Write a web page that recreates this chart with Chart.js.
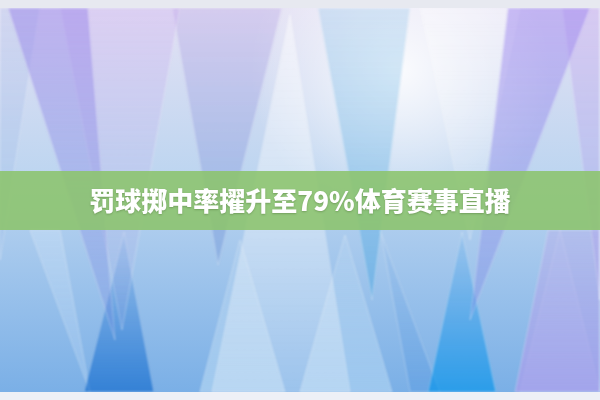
<!DOCTYPE html>
<html><head><meta charset="utf-8">
<script src="https://cdn.jsdelivr.net/npm/chart.js@4"></script>
<style>html,body{margin:0;padding:0;background:#fff}#wrap{width:600px;height:400px}</style>
</head><body><div id="wrap"><canvas id="c" width="600" height="400"></canvas></div>
<script>
// Banner title text
const titleText = "罚球掷中率擢升至79%体育赛事直播";
// Decorative polygons (image coordinates, x 0-600, y 0-400 downward)
const shapeNames = ["purpleL","purpleL2","blueL","whiteC","blueC","purpleR","purpleR2","lavBR","darkBL","brightBR","lightB1","lightB2","lightB3","whiteL","whiteR","blueL2","blueR2"];
const shapeXs = [
  [8,88,115],
  [60,180,122],
  [172,282,218],
  [290,212,350],
  [318,410,372],
  [508,590,470],
  [562,600,600],
  [548,600,600,515],
  [124,84,154],
  [462,428,496],
  [345,300,392],
  [240,200,285],
  [560,520,600],
  [30,60,90],
  [420,520,470],
  [0,40,0],
  [380,440,410]
];
const shapeYs = [
  [8,8,340],
  [8,8,330],
  [8,8,265],
  [14,392,392],
  [8,8,300],
  [8,8,320],
  [8,8,300],
  [230,230,392,392],
  [232,392,392],
  [232,392,392],
  [235,392,392],
  [240,392,392],
  [230,392,392],
  [230,230,392],
  [8,8,240],
  [8,8,260],
  [230,392,392]
];
const shapeTop = [
  "rgba(160,140,235,0.55)","rgba(205,175,240,0.35)","rgba(185,165,230,0.35)",
  "rgba(255,255,255,0.45)","rgba(120,185,230,0.25)","rgba(160,135,240,0.50)",
  "rgba(200,175,240,0.45)","rgba(185,175,235,0.45)","rgba(40,120,215,0.05)",
  "rgba(40,150,235,0.10)","rgba(215,235,250,0.15)","rgba(215,235,250,0.15)",
  "rgba(200,220,250,0.15)","rgba(210,230,250,0.35)","rgba(255,255,255,0.35)",
  "rgba(170,190,235,0.30)","rgba(120,170,230,0.10)"
];
const shapeBot = [
  "rgba(120,140,225,0.25)","rgba(180,180,235,0.15)","rgba(110,150,215,0.45)",
  "rgba(255,255,255,0.25)","rgba(70,165,225,0.45)","rgba(130,140,230,0.35)",
  "rgba(170,160,235,0.35)","rgba(165,160,235,0.85)","rgba(15,105,205,0.65)",
  "rgba(10,150,235,0.70)","rgba(200,230,250,0.45)","rgba(210,235,250,0.45)",
  "rgba(195,215,250,0.40)","rgba(200,225,250,0.25)","rgba(255,255,255,0.10)",
  "rgba(150,180,230,0.20)","rgba(80,150,225,0.40)"
];
// Green band and edge strips
const bandXs = [0,600,600,0];
const bandYs = [171,171,230,230];
const topStripYs = [0,0,8,8];
const botStripYs = [392,392,400,400];

function poly(xs, ys){ return xs.map((x,i)=>({x:x,y:ys[i]})).concat([{x:xs[0],y:ys[0]}]); }

function shapeFill(i){
  return function(ctx){
    const ch = ctx.chart; const sy = ch.scales && ch.scales.y;
    if(!ch.chartArea || !sy) return shapeTop[i];
    const y0 = sy.getPixelForValue(Math.min(...shapeYs[i]));
    const y1 = sy.getPixelForValue(Math.max(...shapeYs[i]));
    if(!isFinite(y0) || !isFinite(y1)) return shapeTop[i];
    const g = ch.ctx.createLinearGradient(0,y0,0,y1);
    g.addColorStop(0,shapeTop[i]); g.addColorStop(1,shapeBot[i]);
    return g;
  };
}

const datasets = shapeNames.map((n,i)=>({
  label:n, data:poly(shapeXs[i],shapeYs[i]), showLine:true, fill:'shape',
  backgroundColor:shapeFill(i), borderColor:'rgba(255,255,255,0.30)', borderWidth:1,
  pointRadius:0, tension:0, order:2
}));
datasets.push({label:'band',data:poly(bandXs,bandYs),showLine:true,fill:'shape',backgroundColor:'rgba(140,196,108,0.88)',borderWidth:0,pointRadius:0,order:1});
datasets.push({label:'top',data:poly(bandXs,topStripYs),showLine:true,fill:'shape',backgroundColor:'#e7e9f0',borderWidth:0,pointRadius:0,order:1});
datasets.push({label:'bot',data:poly(bandXs,botStripYs),showLine:true,fill:'shape',backgroundColor:'#eef0f6',borderWidth:0,pointRadius:0,order:1});

const bgPlugin = {
  id:'bg',
  beforeDraw(chart){
    const {ctx, chartArea:a} = chart;
    ctx.save();
    let g = ctx.createLinearGradient(0,a.top,0,a.bottom);
    g.addColorStop(0,'#e6e2f4'); g.addColorStop(0.45,'#bcd5f0'); g.addColorStop(1,'#78aee6');
    ctx.fillStyle=g; ctx.fillRect(a.left,a.top,a.width,a.height);
    let r = ctx.createRadialGradient(400,70,5,400,70,150);
    r.addColorStop(0,'rgba(255,255,255,0.85)'); r.addColorStop(1,'rgba(255,255,255,0)');
    ctx.fillStyle=r; ctx.fillRect(a.left,a.top,a.width,a.height);
    ctx.restore();
  },
  beforeDatasetsDraw(chart){ chart.ctx.filter='blur(1.2px)'; },
  afterDatasetDraw(chart,args){ if(args.index===0){ chart.ctx.filter='none'; } },
  afterDatasetsDraw(chart){ chart.ctx.filter='none'; }
};
const textPlugin = {
  id:'txt',
  afterDatasetsDraw(chart){
    const {ctx, scales} = chart;
    ctx.save();
    ctx.filter='none';
    ctx.font = '900 26px "Noto Sans CJK SC"';
    ctx.fillStyle = '#ffffff';
    ctx.textAlign='center'; ctx.textBaseline='middle';
    ctx.shadowColor='rgba(60,90,40,0.35)'; ctx.shadowBlur=2; ctx.shadowOffsetY=1;
    ctx.fillText(titleText, scales.x.getPixelForValue(300), scales.y.getPixelForValue(201));
    ctx.restore();
  }
};

new Chart(document.getElementById('c'), {
  type:'scatter',
  data:{datasets:datasets},
  options:{
    responsive:false, animation:false, devicePixelRatio:1,
    layout:{padding:0},
    plugins:{legend:{display:false},tooltip:{enabled:false},title:{display:false}},
    scales:{
      x:{type:'linear',min:0,max:600,display:false},
      y:{type:'linear',min:0,max:400,reverse:true,display:false}
    }
  },
  plugins:[bgPlugin,textPlugin]
});
</script></body></html>
